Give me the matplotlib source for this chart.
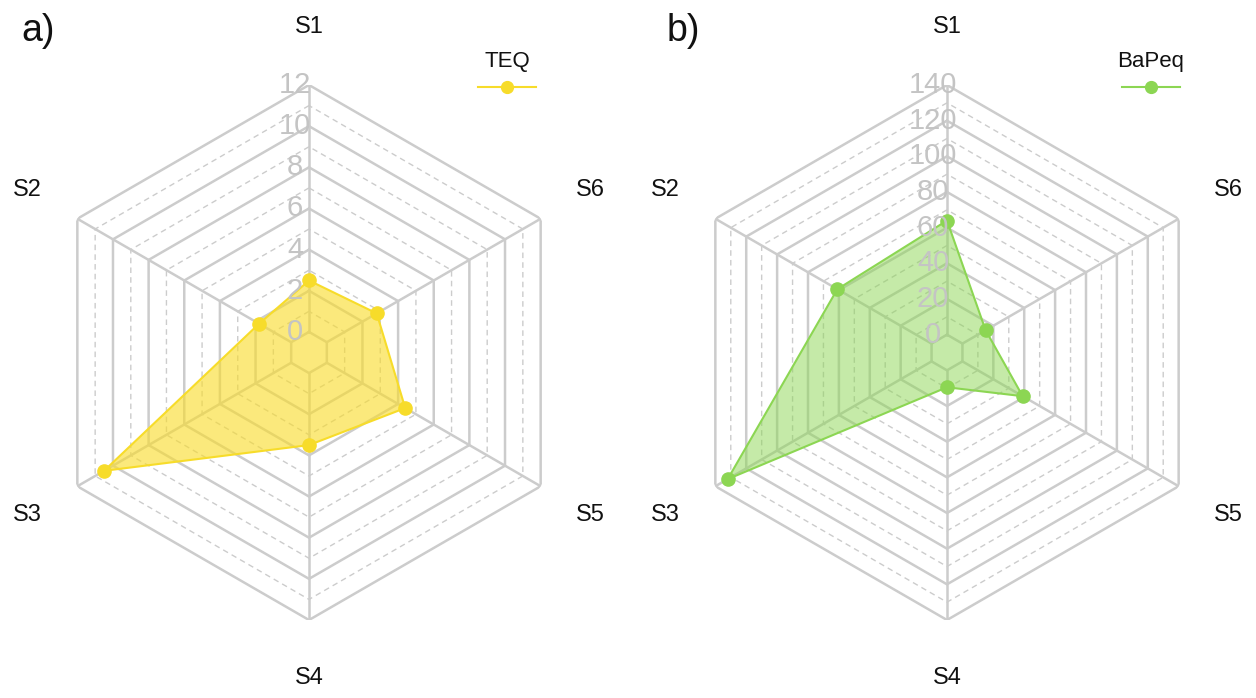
import numpy as np
import matplotlib
matplotlib.use("Agg")
import matplotlib.pyplot as plt
import matplotlib.transforms as mtransforms
from matplotlib.lines import Line2D

plt.rcParams['font.family'] = ['Liberation Sans', 'DejaVu Sans']

categories = ["S1", "S2", "S3", "S4", "S5", "S6"]
teq_values = [2.5, 1.8, 10.5, 3.5, 4.4, 2.8]
bapeq_values = [64, 61, 132, 9.5, 39, 15]

teq_ticks = [0, 2, 4, 6, 8, 10, 12]
bapeq_ticks = [0, 20, 40, 60, 80, 100, 120, 140]

W, H = 1256, 698
fig = plt.figure(figsize=(W / 100, H / 100), dpi=100)

R = 267.5
GRID = "#cccccc"
TICKC = "#c4c4c4"


def radar(cx, cy, values, ticks, minor, color, fillcolor, falpha, label, lx):
    ax = fig.add_axes([(cx - R) / W, (H - cy - R) / H, 2 * R / W, 2 * R / H],
                      projection="polar")
    ax.set_theta_offset(np.pi / 2)
    rmin = ticks[0] - minor
    rmax = ticks[-1]
    ax.set_ylim(rmin, rmax)
    ax.grid(False)
    ax.spines["polar"].set_visible(False)
    ax.set_xticks([])
    ax.set_yticks([])
    ax.set_facecolor("none")

    n = len(categories)
    ang = np.arange(n) * 2 * np.pi / n
    angc = np.append(ang, ang[0])

    # hexagonal grid
    levels = np.arange(ticks[0], ticks[-1] + minor / 2, minor)
    for i, v in enumerate(levels):
        if i % 2 == 0:
            ax.plot(angc, [v] * (n + 1), color=GRID, lw=1.8, zorder=1,
                    solid_joinstyle="miter")
        else:
            ax.plot(angc, [v] * (n + 1), color=GRID, lw=1.0, ls=(0, (4, 3)),
                    zorder=1)
    for a in ang:
        ax.plot([a, a], [ticks[0], rmax], color=GRID, lw=1.8, zorder=1)

    # data
    vals = np.append(values, values[0])
    ax.fill(angc, vals, color=fillcolor, alpha=falpha, zorder=2, lw=0)
    ax.plot(angc, vals, color=color, lw=1.5, zorder=3)
    ax.plot(ang, values, "o", color=color, ms=9.5, zorder=4)

    # tick labels
    off = mtransforms.offset_copy(ax.transData, fig=fig, x=-14, y=0,
                                  units="dots")
    for t in ticks:
        ax.text(0, t, str(t), transform=off, ha="center", va="center",
                fontsize=21, color=TICKC, zorder=5)

    # category labels
    rl = rmin + 1.215 * (rmax - rmin)
    for a, c in zip(ang, categories):
        ax.text(a, rl, c, ha="center", va="center", fontsize=17,
                color="#111111")

    # legend
    fig.text((lx) / W, 1 - 62 / H, label, ha="center", va="center",
             fontsize=16, color="#111111")
    fig.add_artist(Line2D([(lx - 29) / W, (lx + 29) / W], [1 - 87 / H] * 2,
                          transform=fig.transFigure, color=color, lw=1.5))
    fig.add_artist(Line2D([lx / W], [1 - 87 / H], transform=fig.transFigure,
                          marker="o", ms=8.5, color=color, lw=0))
    return ax


radar(309, 352.5, teq_values, teq_ticks, 1, "#f7dc2a", "#f9dc2c", 0.62,
      "TEQ", 507)
radar(947, 352.5, bapeq_values, bapeq_ticks, 10, "#8cd653", "#8cd653", 0.5,
      "BaPeq", 1151)

fig.text(38 / W, 1 - 31 / H, "a)", ha="center", va="center", fontsize=27,
         color="#111111")
fig.text(683 / W, 1 - 31 / H, "b)", ha="center", va="center", fontsize=27,
         color="#111111")

fig.savefig("out.png", dpi=100)
